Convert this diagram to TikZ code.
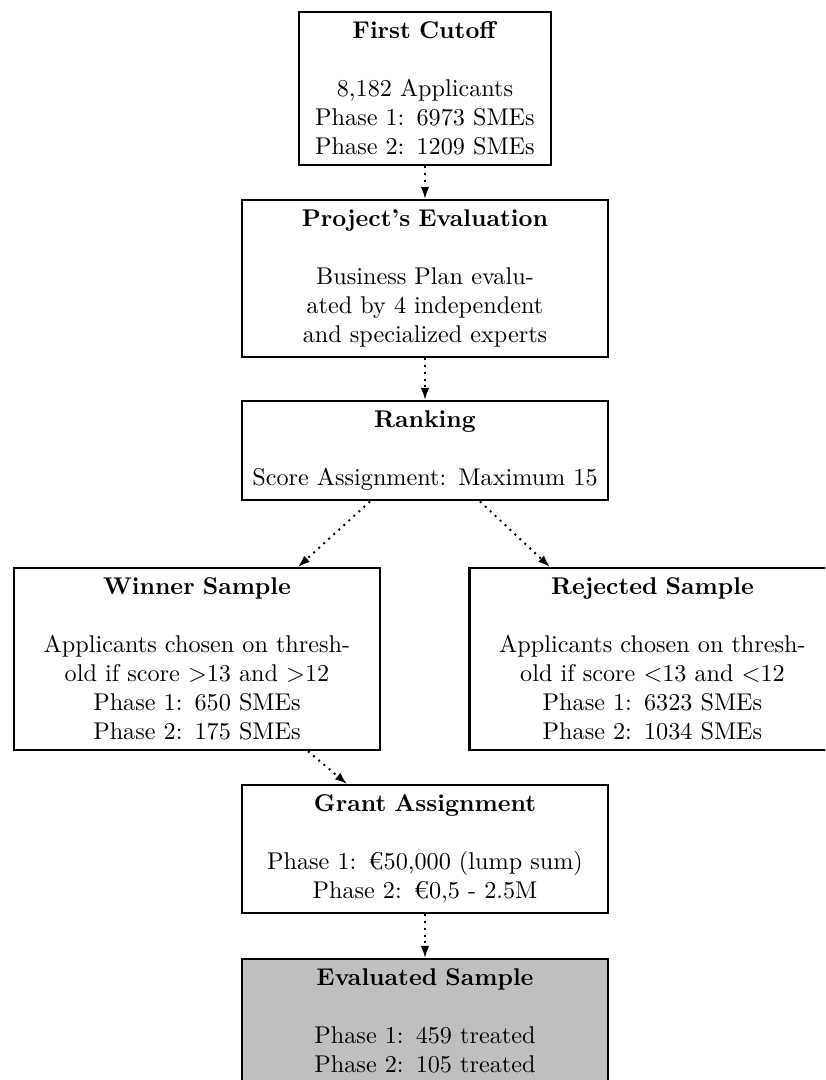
\documentclass[tikz,border=0pt]{standalone}
\usetikzlibrary{calc,arrows.meta}
\begin{document}
\begin{tikzpicture}[x=0.413pt,y=-0.413pt,
  box/.style={draw, line width=0.9pt, align=center, anchor=north, text width=144.5pt, inner xsep=3.33pt, inner ysep=4pt},
  arr/.style={line width=0.8pt, dotted, -{Latex[length=5pt,width=3.5pt]}}]
\useasboundingbox (0,0) rectangle (825,1080);
\clip (0,0) rectangle (825,1080);
\node[box, text width=97.4pt] (first) at (425,11)
  {\textbf{First Cutoff}\\[\baselineskip]8,182 Applicants\\Phase 1: 6973 SMEs\\Phase 2: 1209 SMEs};
\node[box] (proj) at (425,199)
  {\textbf{Project's Evaluation}\\[\baselineskip]Business Plan evalu-\\ated by 4 independent\\and specialized experts};
\node[box] (rank) at (425,400)
  {\textbf{Ranking}\\[\baselineskip]Score Assignment: Maximum 15};
\node[box] (win) at (197,567)
  {\textbf{Winner Sample}\\[\baselineskip]Applicants chosen on thresh-\\old if score $>$13 and $>$12\\Phase 1: 650 SMEs\\Phase 2: 175 SMEs};
\node[box] (rej) at (652.5,567)
  {\textbf{Rejected Sample}\\[\baselineskip]Applicants chosen on thresh-\\old if score $<$13 and $<$12\\Phase 1: 6323 SMEs\\Phase 2: 1034 SMEs};
\node[box] (grant) at (425,784)
  {\textbf{Grant Assignment}\\[\baselineskip]Phase 1: €50,000 (lump sum)\\Phase 2: €0,5 - 2.5M};
\node[box, fill=black!25] (evs) at (425,958)
  {\textbf{Evaluated Sample}\\[\baselineskip]Phase 1: 459 treated\\Phase 2: 105 treated};
\draw[arr] (first.south) -- (proj.north);
\draw[arr] (proj.south) -- (rank.north);
\draw[arr] ($(rank.south)+(-55,0)$) -- ($(win.north)+(101,0)$);
\draw[arr] ($(rank.south)+(55,0)$) -- ($(rej.north)+(-102.5,0)$);
\draw[arr] ($(win.south)+(111,0)$) -- ($(grant.north)+(-78,0)$);
\draw[arr] (grant.south) -- (evs.north);
\end{tikzpicture}
\end{document}
